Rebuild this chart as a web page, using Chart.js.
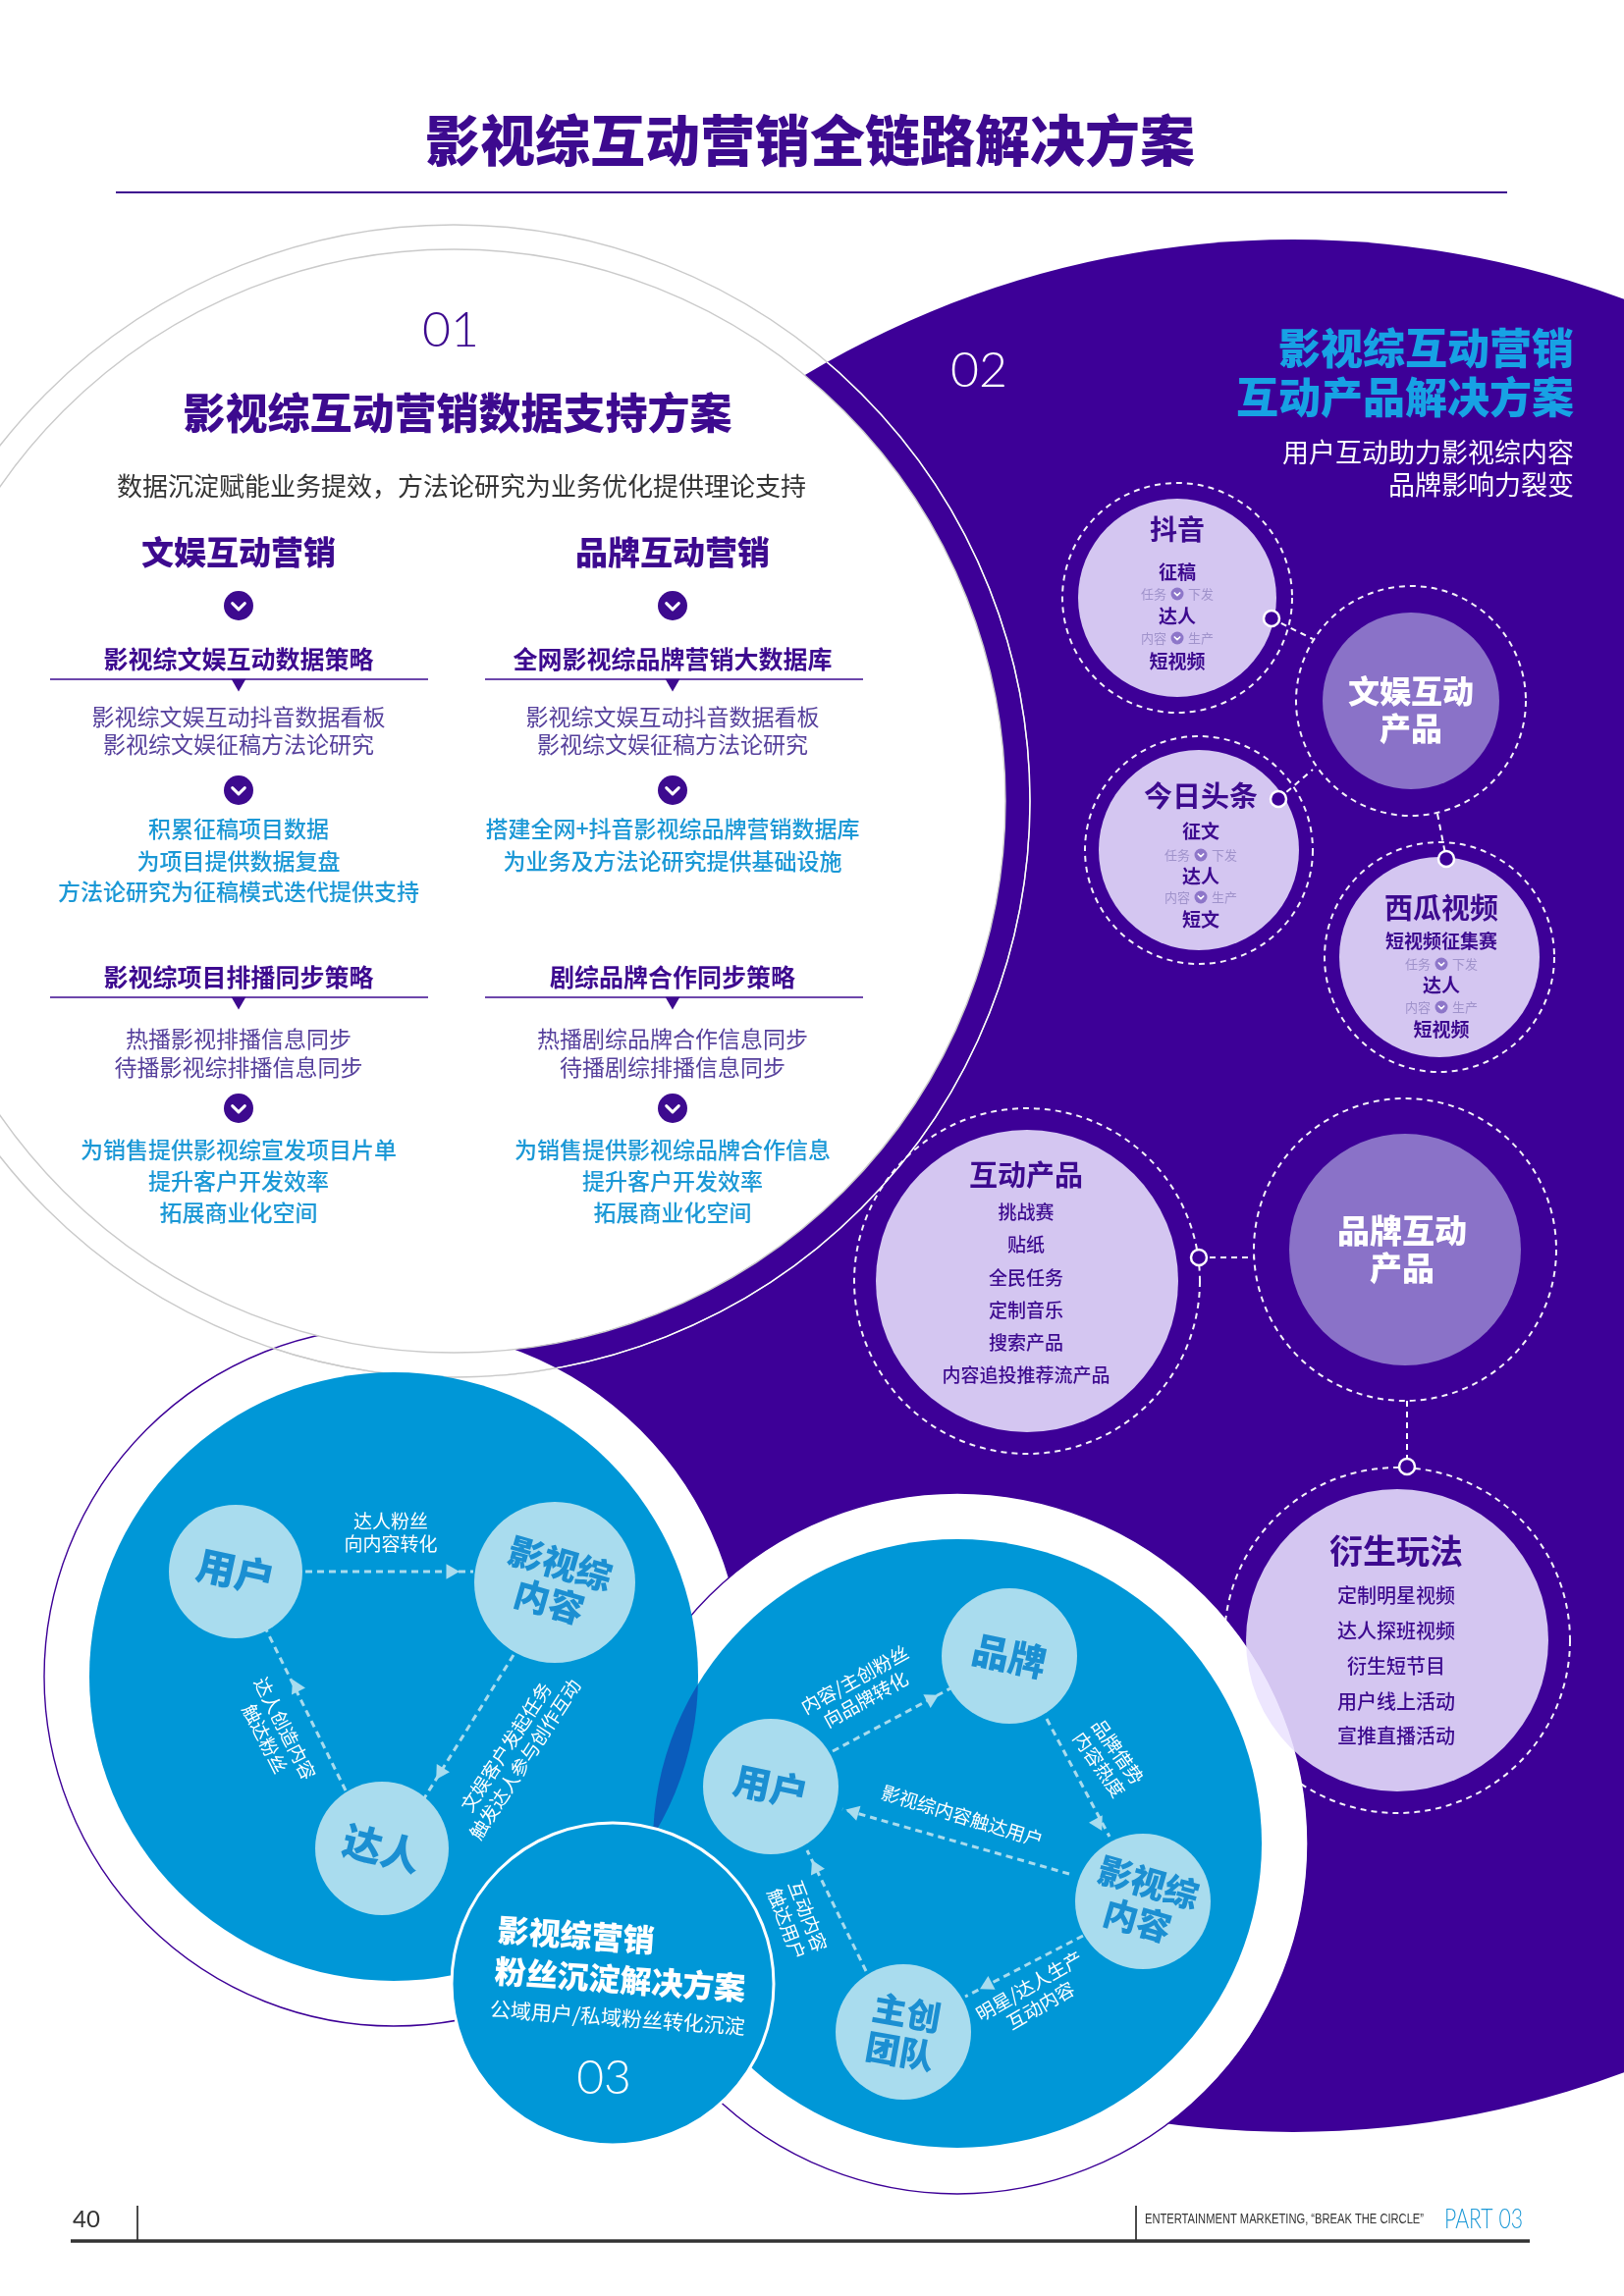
<!DOCTYPE html>
<html>
<head>
<meta charset="utf-8">
<script src="https://cdn.jsdelivr.net/npm/chart.js@4.4.1/dist/chart.umd.min.js"></script>
<style>
html,body{margin:0;padding:0;background:#ffffff;}
#wrap{width:1654px;height:2339px;position:relative;}
</style>
</head>
<body>
<div id="wrap"><canvas id="c"></canvas></div>
<script>
// ================= DATA (texts / values) =================
const pageTitle = '影视综互动营销全链路解决方案';
const sectionNumbers = ['01', '02', '03'];
const section01Title = '影视综互动营销数据支持方案';
const section01Desc = '数据沉淀赋能业务提效，方法论研究为业务优化提供理论支持';
const columnHeads = ['文娱互动营销', '品牌互动营销'];
const strategyHeads = ['影视综文娱互动数据策略', '全网影视综品牌营销大数据库', '影视综项目排播同步策略', '剧综品牌合作同步策略'];
const strategyBody = [
  ['影视综文娱互动抖音数据看板', '影视综文娱征稿方法论研究'],
  ['影视综文娱互动抖音数据看板', '影视综文娱征稿方法论研究'],
  ['热播影视排播信息同步', '待播影视综排播信息同步'],
  ['热播剧综品牌合作信息同步', '待播剧综排播信息同步']
];
const strategyResult = [
  ['积累征稿项目数据', '为项目提供数据复盘', '方法论研究为征稿模式迭代提供支持'],
  ['搭建全网+抖音影视综品牌营销数据库', '为业务及方法论研究提供基础设施'],
  ['为销售提供影视综宣发项目片单', '提升客户开发效率', '拓展商业化空间'],
  ['为销售提供影视综品牌合作信息', '提升客户开发效率', '拓展商业化空间']
];
const section02Title = ['影视综互动营销', '互动产品解决方案'];
const section02Desc = ['用户互动助力影视综内容', '品牌影响力裂变'];
const platforms = ['抖音', '今日头条', '西瓜视频'];
const platformTasks = ['征稿', '征文', '短视频征集赛'];
const platformMiddle = ['达人', '达人', '达人'];
const platformOutputs = ['短视频', '短文', '短视频'];
const flowWords = [['任务', '下发'], ['内容', '生产']];
const hubNames = [['文娱互动', '产品'], ['品牌互动', '产品']];
const interactiveTitle = '互动产品';
const interactiveProducts = ['挑战赛', '贴纸', '全民任务', '定制音乐', '搜索产品', '内容追投推荐流产品'];
const derivedTitle = '衍生玩法';
const derivedPlays = ['定制明星视频', '达人探班视频', '衍生短节目', '用户线上活动', '宣推直播活动'];
const fanNodesA = [['用户'], ['影视综', '内容'], ['达人']];
const fanEdgesA = [['达人粉丝', '向内容转化'], ['文娱客户发起任务', '触发达人参与创作互动'], ['达人创造内容', '触达粉丝']];
const fanNodesB = [['品牌'], ['用户'], ['影视综', '内容'], ['主创', '团队']];
const fanEdgesB = [['内容/主创粉丝', '向品牌转化'], ['品牌借势', '内容热度'], ['影视综内容触达用户'], ['明星/达人生产', '互动内容'], ['互动内容', '触达用户']];
const section03Title = ['影视综营销', '粉丝沉淀解决方案'];
const section03Desc = '公域用户/私域粉丝转化沉淀';
const footerTexts = ['40', 'ENTERTAINMENT MARKETING, \u201cBREAK THE CIRCLE\u201d', 'PART 03'];

// ================= LAYOUT (page units, mapped through the chart scales) =================
const W = 1654, H = 2339;
const CJK = '"Noto Sans CJK SC","Noto Sans CJK JP","Noto Sans",sans-serif';
const LAT = 'Lato,"Open Sans",Roboto,sans-serif';
const COL = {
  purple: '#3d0097', ink: '#3d0a8f', cyan: '#17a2e4', blue: '#0097d7', node: '#a9dcee',
  nodeInk: '#1b8fd2', lens: '#0a5cbc', lav: 'rgba(234,226,254,0.875)', hub: '#8a72c8',
  muted: '#a093cb', body: '#56409c', blueTxt: '#1b98d6', gray: '#cacaca', badge: '#8d76c9'
};
const LY = {
  purpleBg: [1317, 1208, 964],
  white01: [462, 816, 562],
  ring01: [462, 816, 587],
  groupWhite: [[401, 1708, 356], [975, 1878, 357]],
  groupBlue: [[401, 1708, 310], [975, 1878, 310]],
  disk03: [624, 2021, 164],
  dashRings: [[1199, 609, 117], [1437, 714, 117], [1221, 866, 116], [1466, 975, 117], [1046, 1305, 176], [1431, 1273, 154], [1423, 1671, 176]],
  lavDisks: [[1199, 609, 101], [1221, 866, 102], [1466, 975, 102], [1046, 1305, 154], [1423, 1671, 154]],
  hubDisks: [[1437, 714, 90], [1431, 1273, 118]],
  nodesA: [[240, 1601, 68], [565, 1612, 82], [389, 1883, 68]],
  nodesB: [[1028, 1687, 69], [785, 1820, 69], [1164, 1937, 69], [920, 2070, 69]],
  arrowsA: [
    {a: [311, 1601], b: [482, 1601], h: [459, 1601]},
    {a: [523, 1686], b: [432, 1832], h: [449, 1805]},
    {a: [352, 1824], b: [271, 1660], h: [302, 1719]}
  ],
  arrowsB: [
    {a: [848, 1784], b: [968, 1720], h: [948, 1731]},
    {a: [1066, 1751], b: [1130, 1871], h: [1118, 1857]},
    {a: [1089, 1909], b: [858, 1843], h: [870, 1846]},
    {a: [1103, 1972], b: [983, 2034], h: [1006, 2022]},
    {a: [882, 2008], b: [822, 1885], h: [831, 1903]}
  ],
  connectors: [
    [[1295, 630], [1337, 651]],
    [[1302, 814], [1337, 784]],
    [[1464, 829], [1473, 875]],
    [[1221, 1281], [1278, 1281]],
    [[1433, 1427], [1433, 1494]]
  ],
  connectorDots: [[1295, 630], [1302, 814], [1473, 875], [1221, 1281], [1433, 1494]],
  titleRule: [[118, 196], [1535, 196]],
  headRules: [[[51, 692], [436, 692]], [[494, 692], [879, 692]], [[51, 1016], [436, 1016]], [[494, 1016], [879, 1016]]],
  headTris: [[243, 696], [685, 696], [243, 1020], [685, 1020]],
  chevBadges: [[243, 617, 15], [685, 617, 15], [243, 805, 15], [685, 805, 15], [243, 1129, 15], [685, 1129, 15]],
  colX: [243, 685],
  footerRule: [[72, 2283], [1558, 2283]],
  footerTicks: [[[140, 2247], [140, 2282]], [[1157, 2247], [1157, 2282]]],
  platformBlocks: [
    {x: 1199, y: [539, 583, 605, 628, 650, 674], ns: 28},
    {x: 1223, y: [811, 847, 871, 893, 914, 937], ns: 29},
    {x: 1468, y: [925, 959, 982, 1004, 1026, 1049], ns: 29}
  ]
};

// ================= DATASETS =================
const ds = [];
function addBubble(label, pts, bg, bc, bw, dash) {
  ds.push({type: 'bubble', label, data: pts.map(p => ({x: p[0], y: p[1], r: p[2]})),
    backgroundColor: bg, borderColor: bc || 'rgba(0,0,0,0)', borderWidth: bw || 0, dashPattern: dash || null, clip: false});
}
function addLine(label, a, b, color, w, dash) {
  ds.push({type: 'line', label, data: [{x: a[0], y: a[1]}, {x: b[0], y: b[1]}], borderColor: color,
    borderWidth: w, borderDash: dash || [], pointRadius: 0, fill: false, tension: 0, clip: false});
}
function addMarkers(label, pts, style, r, bg, bc, bw, rots) {
  ds.push({type: 'scatter', label, data: pts.map(p => ({x: p[0], y: p[1]})), pointStyle: style, pointRadius: r,
    pointBackgroundColor: bg, pointBorderColor: bc || bg, pointBorderWidth: bw || 0,
    pointRotation: rots ? (c => rots[c.dataIndex]) : 0, clip: false});
}
function dirRot(a, b) { return Math.atan2(b[0] - a[0], -(b[1] - a[1])) * 180 / Math.PI; }

addBubble('purpleBg', [LY.purpleBg], COL.purple);
addBubble('groupWhite', LY.groupWhite, '#ffffff', COL.purple, 1.4);
addBubble('white01', [LY.white01], '#ffffff', COL.gray, 1.4);
addBubble('ring01', [LY.ring01], 'rgba(0,0,0,0)', COL.gray, 1.4);
addBubble('dashRings', LY.dashRings, 'rgba(0,0,0,0)', 'rgba(255,255,255,0.95)', 2, [6, 5]);
addBubble('lavDisks', LY.lavDisks, COL.lav);
addBubble('hubDisks', LY.hubDisks, COL.hub);
addBubble('groupBlue', LY.groupBlue, COL.blue);
addBubble('disk03', [LY.disk03], COL.blue, '#ffffff', 3);
LY.arrowsA.concat(LY.arrowsB).forEach((ar, i) => addLine('arrow' + i, ar.a, ar.b, COL.node, 3, [7, 5]));
LY.connectors.forEach((c, i) => addLine('conn' + i, c[0], c[1], '#ffffff', 2, [6, 5]));
addLine('titleRule', LY.titleRule[0], LY.titleRule[1], COL.ink, 2);
LY.headRules.forEach((r, i) => addLine('headRule' + i, r[0], r[1], COL.ink, 1.5));
addLine('footerRule', LY.footerRule[0], LY.footerRule[1], '#333333', 3.5);
LY.footerTicks.forEach((r, i) => addLine('footerTick' + i, r[0], r[1], '#333333', 1));
addBubble('nodes', LY.nodesA.concat(LY.nodesB), COL.node);
const allArrows = LY.arrowsA.concat(LY.arrowsB);
addMarkers('arrowHeads', allArrows.map(a => a.h), 'triangle', 9, COL.node, COL.node, 0, allArrows.map(a => dirRot(a.a, a.b)));
addMarkers('connDots', LY.connectorDots, 'circle', 8, COL.purple, '#ffffff', 2.5);
addMarkers('headTris', LY.headTris, 'triangle', 8.5, COL.ink, COL.ink, 0, LY.headTris.map(() => 180));
addBubble('chevBadges', LY.chevBadges, COL.ink);
const smallBadges = [];
LY.platformBlocks.forEach(b => { smallBadges.push([b.x, b.y[2], 6.5]); smallBadges.push([b.x, b.y[4], 6.5]); });
addBubble('smallBadges', smallBadges, COL.badge);
ds.forEach((d, i) => { d.order = ds.length - i; });

// ================= PLUGINS =================
function circlePath(ctx, xs, ys, c) {
  ctx.beginPath();
  ctx.arc(xs.getPixelForValue(c[0]), ys.getPixelForValue(c[1]), c[2], 0, Math.PI * 2);
}
const dashPlugin = {
  id: 'dashPoints',
  beforeDatasetDraw(chart, args) {
    const d = chart.data.datasets[args.index];
    chart.ctx.save();
    if (d.dashPattern) chart.ctx.setLineDash(d.dashPattern);
  },
  afterDatasetDraw(chart, args) {
    chart.ctx.restore();
    const d = chart.data.datasets[args.index];
    const ctx = chart.ctx, xs = chart.scales.x, ys = chart.scales.y;
    if (d.label === 'ring01') {
      ctx.save(); circlePath(ctx, xs, ys, LY.purpleBg); ctx.clip();
      circlePath(ctx, xs, ys, LY.ring01); ctx.strokeStyle = '#ffffff'; ctx.lineWidth = 1.4; ctx.stroke();
      ctx.restore();
      LY.groupWhite.forEach(g => {
        ctx.save(); circlePath(ctx, xs, ys, g); ctx.clip();
        circlePath(ctx, xs, ys, LY.ring01); ctx.strokeStyle = COL.gray; ctx.lineWidth = 1.4; ctx.stroke();
        ctx.restore();
      });
    }
    if (d.label === 'groupBlue') {
      ctx.save(); circlePath(ctx, xs, ys, LY.groupBlue[0]); ctx.clip();
      circlePath(ctx, xs, ys, LY.groupBlue[1]); ctx.fillStyle = COL.lens; ctx.fill();
      ctx.restore();
    }
  }
};

function drawChevron(ctx, x, y, r, w) {
  ctx.save();
  ctx.strokeStyle = '#ffffff'; ctx.lineWidth = w; ctx.lineCap = 'round'; ctx.lineJoin = 'round';
  ctx.beginPath();
  ctx.moveTo(x - r * 0.42, y - r * 0.16);
  ctx.lineTo(x, y + r * 0.26);
  ctx.lineTo(x + r * 0.42, y - r * 0.16);
  ctx.stroke();
  ctx.restore();
}

const textPlugin = {
  id: 'texts',
  afterDatasetsDraw(chart) {
    const ctx = chart.ctx, xs = chart.scales.x, ys = chart.scales.y;
    const X = v => xs.getPixelForValue(v), Y = v => ys.getPixelForValue(v);
    function T(s, x, y, size, weight, color, align, family, maxW) {
      ctx.save();
      ctx.font = weight + ' ' + size + 'px ' + (family || CJK);
      ctx.fillStyle = color; ctx.textAlign = align || 'center'; ctx.textBaseline = 'middle';
      if (maxW) ctx.fillText(s, X(x), Y(y), maxW); else ctx.fillText(s, X(x), Y(y));
      ctx.restore();
    }
    function B(lines, x, y, rot, size, weight, color, lh, align, lx, offs) {
      ctx.save();
      ctx.translate(X(x), Y(y)); ctx.rotate(rot * Math.PI / 180);
      ctx.font = weight + ' ' + size + 'px ' + CJK;
      ctx.fillStyle = color; ctx.textAlign = align || 'center'; ctx.textBaseline = 'middle';
      const n = lines.length;
      lines.forEach((l, i) => ctx.fillText(l, lx || 0, offs ? offs[i] : (i - (n - 1) / 2) * lh));
      ctx.restore();
    }
    chart.getDatasetMeta(ds.findIndex(d => d.label === 'chevBadges')).data.forEach(p => drawChevron(ctx, p.x, p.y, 15, 3));
    chart.getDatasetMeta(ds.findIndex(d => d.label === 'smallBadges')).data.forEach(p => drawChevron(ctx, p.x, p.y, 6.5, 1.6));

    T(pageTitle, 825, 143, 56, 900, COL.ink);
    T(sectionNumbers[0], 459, 337, 50, 300, COL.ink, 'center', LAT);
    T(section01Title, 466, 421, 43, 900, COL.ink);
    T(section01Desc, 470, 495, 26, 400, '#333333');
    columnHeads.forEach((h, i) => T(h, LY.colX[i], 562, 33, 900, COL.ink));
    const headY = [671, 671, 995, 995];
    const bodyY = [[730, 758], [730, 758], [1058, 1087], [1058, 1087]];
    const resY = [[844, 877, 908], [844, 877], [1171, 1203, 1235], [1171, 1203, 1235]];
    strategyHeads.forEach((h, i) => {
      const x = LY.colX[i % 2];
      T(h, x, headY[i], 25, 700, COL.ink);
      strategyBody[i].forEach((l, j) => T(l, x, bodyY[i][j], 23, 400, COL.body));
      strategyResult[i].forEach((l, j) => T(l, x, resY[i][j], 23, 500, COL.blueTxt));
    });
    T(sectionNumbers[1], 997, 378, 50, 300, '#ffffff', 'center', LAT);
    T(section02Title[0], 1603, 355, 43, 900, COL.cyan, 'right');
    T(section02Title[1], 1603, 405, 43, 900, COL.cyan, 'right');
    T(section02Desc[0], 1603, 461, 27, 400, '#ffffff', 'right');
    T(section02Desc[1], 1603, 494, 27, 400, '#ffffff', 'right');
    LY.platformBlocks.forEach((b, i) => {
      T(platforms[i], b.x, b.y[0], b.ns, 700, COL.ink);
      T(platformTasks[i], b.x, b.y[1], 19, 700, COL.ink);
      T(flowWords[0][0], b.x - 11, b.y[2], 13, 400, COL.muted, 'right');
      T(flowWords[0][1], b.x + 11, b.y[2], 13, 400, COL.muted, 'left');
      T(platformMiddle[i], b.x, b.y[3], 19, 700, COL.ink);
      T(flowWords[1][0], b.x - 11, b.y[4], 13, 400, COL.muted, 'right');
      T(flowWords[1][1], b.x + 11, b.y[4], 13, 400, COL.muted, 'left');
      T(platformOutputs[i], b.x, b.y[5], 19, 700, COL.ink);
    });
    B(hubNames[0], 1437, 723, 0, 32, 900, '#ffffff', 38);
    B(hubNames[1], 1428, 1272, 0, 33, 900, '#ffffff', 38);
    T(interactiveTitle, 1045, 1197, 29, 700, COL.ink);
    const ipY = [1235, 1268, 1302, 1335, 1368, 1401];
    interactiveProducts.forEach((s, i) => T(s, 1045, ipY[i], 19, 500, COL.ink));
    T(derivedTitle, 1422, 1580, 34, 700, COL.ink);
    const dpY = [1625, 1661, 1697, 1733, 1768];
    derivedPlays.forEach((s, i) => T(s, 1422, dpY[i], 20, 500, COL.ink));

    const nodeRotA = [12, 16, 14];
    LY.nodesA.forEach((n, i) => B(fanNodesA[i], n[0], n[1], nodeRotA[i], fanNodesA[i].length > 1 ? 36 : 40, 900, COL.nodeInk, 40));
    const nodeRotB = [12, 12, 16, 10];
    LY.nodesB.forEach((n, i) => B(fanNodesB[i], n[0], n[1], nodeRotB[i], fanNodesB[i].length > 1 ? 35 : 38, 900, COL.nodeInk, 40));
    const edgeA = [[398, 1561, 0], [525, 1786, -57], [280, 1766, 63]];
    fanEdgesA.forEach((l, i) => B(l, edgeA[i][0], edgeA[i][1], edgeA[i][2], 19, 400, '#ffffff', 23));
    const edgeB = [[876, 1721, -29], [1129, 1791, 55], [980, 1850, 17], [1054, 2033, -30], [812, 1956, 69]];
    fanEdgesB.forEach((l, i) => B(l, edgeB[i][0], edgeB[i][1], edgeB[i][2], 19, 400, '#ffffff', 23));
    B(section03Title, 624, 2010, 4, 32, 900, '#ffffff', 0, 'left', -120, [-36, 6]);
    B([section03Desc], 624, 2010, 4, 21, 400, '#ffffff', 0, 'left', -122, [45]);
    T(sectionNumbers[2], 615, 2118, 48, 300, '#ffffff', 'center', LAT);

    T(footerTexts[0], 74, 2261, 24, 400, '#333333', 'left', LAT, 30);
    T(footerTexts[1], 1166, 2261, 14, 400, '#333333', 'left', '"Liberation Sans Narrow","Liberation Sans",sans-serif', 284);
    T(footerTexts[2], 1471, 2261, 27, 300, COL.blueTxt, 'left', LAT, 80);
  }
};

new Chart(document.getElementById('c'), {
  type: 'bubble',
  data: {datasets: ds},
  options: {
    responsive: true, maintainAspectRatio: false, animation: false, events: [],
    layout: {padding: 0, autoPadding: false},
    plugins: {legend: {display: false}, tooltip: {enabled: false}},
    scales: {
      x: {type: 'linear', min: 0, max: W, display: false},
      y: {type: 'linear', min: 0, max: H, reverse: true, display: false}
    }
  },
  plugins: [dashPlugin, textPlugin]
});
</script>
</body>
</html>
